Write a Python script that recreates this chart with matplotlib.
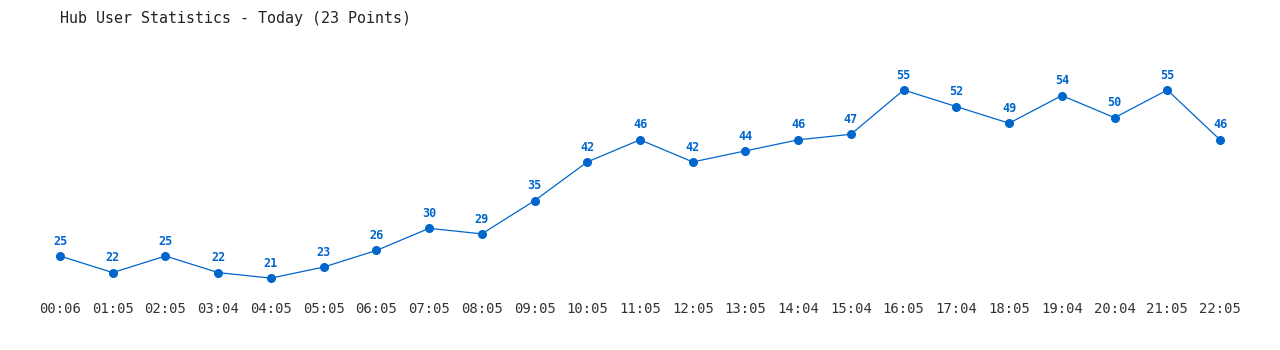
import matplotlib
matplotlib.use("Agg")
import matplotlib.pyplot as plt

# Datos de la grafica
horas = ["00:06", "01:05", "02:05", "03:04", "04:05", "05:05", "06:05", "07:05",
         "08:05", "09:05", "10:05", "11:05", "12:05", "13:05", "14:04", "15:04",
         "16:05", "17:04", "18:05", "19:04", "20:04", "21:05", "22:05"]
usuarios = [25, 22, 25, 22, 21, 23, 26, 30, 29, 35, 42, 46, 42, 44, 46, 47,
            55, 52, 49, 54, 50, 55, 46]

azul = "#0066cc"
fuente = "DejaVu Sans Mono"

fig = plt.figure(figsize=(12.8, 3.5), dpi=100)
ax = fig.add_axes([0, 54 / 350, 1, 1 - 54 / 350])

x = list(range(len(usuarios)))
ax.plot(x, usuarios, color=azul, linewidth=0.9, marker="o", markersize=5.5)

# Etiquetas de valor encima de cada punto
for i, v in enumerate(usuarios):
    ax.annotate(str(v), (i, v), xytext=(0, 6), textcoords="offset points",
                ha="center", va="bottom", color=azul, fontsize=8.5,
                fontweight="bold", family=fuente)

ax.set_xlim(-1.138, 23.137)
ax.set_ylim(17.77, 71.27)
ax.set_xticks(x)
ax.set_xticklabels(horas, family=fuente, fontsize=10, color="#333333")
ax.tick_params(axis="x", length=0, pad=4)
ax.set_yticks([])
for s in ax.spines.values():
    s.set_visible(False)

fig.text(60 / 1280, 1 - 18 / 350, "Hub User Statistics - Today (23 Points)",
         family=fuente, fontsize=10.8, color="#222222", ha="left", va="center")

fig.savefig("out.png", dpi=100, facecolor="white")
